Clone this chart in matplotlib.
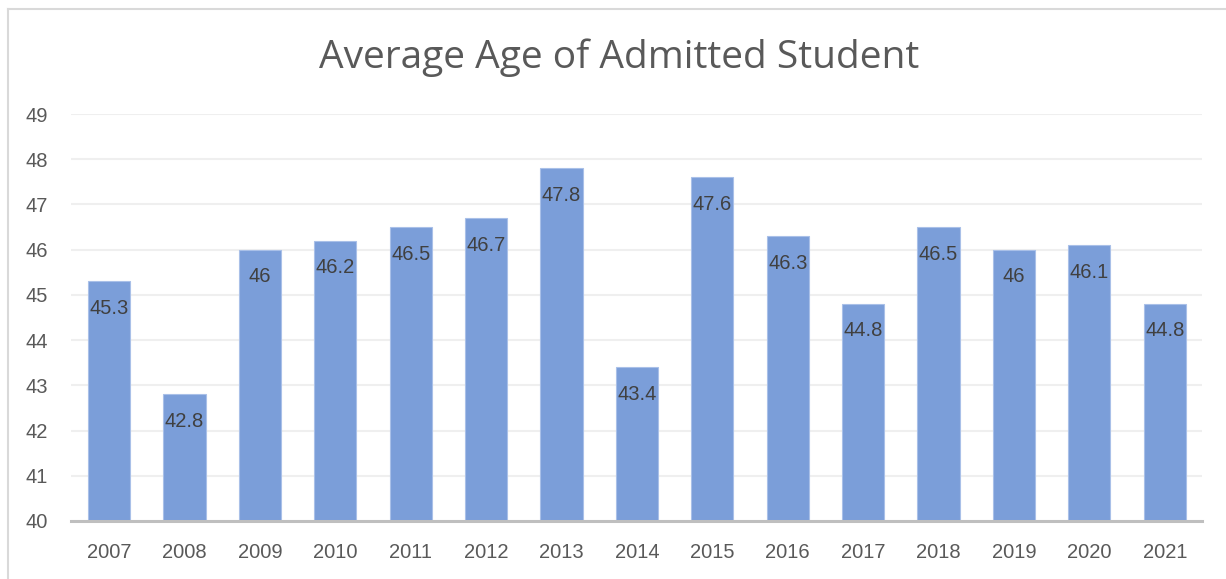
import matplotlib
matplotlib.use("Agg")
import matplotlib.pyplot as plt
from matplotlib.lines import Line2D

years = ["2007", "2008", "2009", "2010", "2011", "2012", "2013", "2014",
         "2015", "2016", "2017", "2018", "2019", "2020", "2021"]
ages = [45.3, 42.8, 46, 46.2, 46.5, 46.7, 47.8, 43.4,
        47.6, 46.3, 44.8, 46.5, 46, 46.1, 44.8]
yticks = [40, 41, 42, 43, 44, 45, 46, 47, 48, 49]

plt.rcParams['font.family'] = ['Liberation Sans', 'DejaVu Sans']

fig = plt.figure(figsize=(12.26, 5.79), dpi=100)
ax = fig.add_axes([0.0583, 0.1002, 0.9225, 0.7028])

x = range(len(years))
bars = ax.bar(x, ages, width=0.56, bottom=0, color='#7B9ED9',
              edgecolor='#A9C0E8', linewidth=0.8, zorder=2)
for xi, v in zip(x, ages):
    ax.annotate('%g' % v, (xi, v), xytext=(0, -27), textcoords='offset pixels',
                ha='center', va='center', fontsize=14.5, color='#404040', zorder=3)

ax.set_ylim(40, 49)
ax.set_xlim(-0.5, len(years) - 0.5)
ax.set_yticks(yticks)
ax.set_xticks(list(x))
ax.set_xticklabels(years)
ax.yaxis.grid(True, color='#EFEFEF', linewidth=1.5, zorder=0)
ax.set_axisbelow(True)
ax.tick_params(axis='both', length=0, labelsize=14.5, labelcolor='#595959')
ax.tick_params(axis='x', pad=16)
ax.tick_params(axis='y', pad=17)
for s in ['top', 'right', 'left']:
    ax.spines[s].set_visible(False)
ax.spines['bottom'].set_color('#BFBFBF')
ax.spines['bottom'].set_linewidth(2.2)
ax.spines['bottom'].set_zorder(4)

fig.text(0.505, 0.901, 'Average Age of Admitted Student', ha='center', va='center',
         fontsize=28, color='#595959', family=['Open Sans', 'DejaVu Sans'])

fig.add_artist(Line2D([7.5 / 1226, 7.5 / 1226], [0, 1 - 8.5 / 579],
                      transform=fig.transFigure, color='#D9D9D9', linewidth=1.5))
fig.add_artist(Line2D([7.5 / 1226, 1], [1 - 8.5 / 579, 1 - 8.5 / 579],
                      transform=fig.transFigure, color='#D9D9D9', linewidth=1.5))

fig.savefig('out.png', dpi=100)
